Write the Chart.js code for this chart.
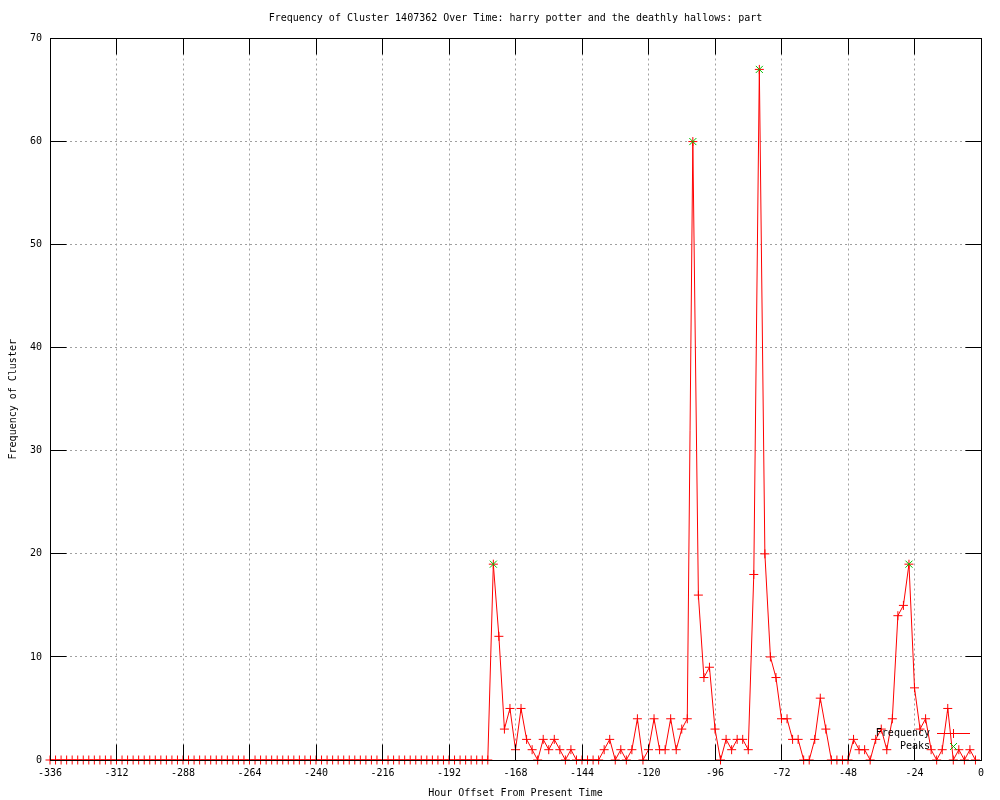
<!DOCTYPE html>
<html>
<head>
<meta charset="utf-8">
<title>Frequency of Cluster 1407362 Over Time</title>
<script src="https://cdn.jsdelivr.net/npm/chart.js@4.4.1/dist/chart.umd.min.js"></script>
<style>
  html, body { margin: 0; padding: 0; background: #fff; }
  #wrap { width: 1000px; height: 800px; }
</style>
</head>
<body>
<div id="wrap"><canvas id="clusterChart" width="1000" height="800"></canvas></div>
<script>
// hour offsets, one sample every 2 hours (one row = one day)
const hours = [
  -336, -334, -332, -330, -328, -326, -324, -322, -320, -318, -316, -314,
  -312, -310, -308, -306, -304, -302, -300, -298, -296, -294, -292, -290,
  -288, -286, -284, -282, -280, -278, -276, -274, -272, -270, -268, -266,
  -264, -262, -260, -258, -256, -254, -252, -250, -248, -246, -244, -242,
  -240, -238, -236, -234, -232, -230, -228, -226, -224, -222, -220, -218,
  -216, -214, -212, -210, -208, -206, -204, -202, -200, -198, -196, -194,
  -192, -190, -188, -186, -184, -182, -180, -178, -176, -174, -172, -170,
  -168, -166, -164, -162, -160, -158, -156, -154, -152, -150, -148, -146,
  -144, -142, -140, -138, -136, -134, -132, -130, -128, -126, -124, -122,
  -120, -118, -116, -114, -112, -110, -108, -106, -104, -102, -100, -98,
  -96, -94, -92, -90, -88, -86, -84, -82, -80, -78, -76, -74,
  -72, -70, -68, -66, -64, -62, -60, -58, -56, -54, -52, -50,
  -48, -46, -44, -42, -40, -38, -36, -34, -32, -30, -28, -26,
  -24, -22, -20, -18, -16, -14, -12, -10, -8, -6, -4, -2
];

const frequency = [
  0, 0, 0, 0, 0, 0, 0, 0, 0, 0, 0, 0,
  0, 0, 0, 0, 0, 0, 0, 0, 0, 0, 0, 0,
  0, 0, 0, 0, 0, 0, 0, 0, 0, 0, 0, 0,
  0, 0, 0, 0, 0, 0, 0, 0, 0, 0, 0, 0,
  0, 0, 0, 0, 0, 0, 0, 0, 0, 0, 0, 0,
  0, 0, 0, 0, 0, 0, 0, 0, 0, 0, 0, 0,
  0, 0, 0, 0, 0, 0, 0, 0, 19, 12, 3, 5,
  1, 5, 2, 1, 0, 2, 1, 2, 1, 0, 1, 0,
  0, 0, 0, 0, 1, 2, 0, 1, 0, 1, 4, 0,
  1, 4, 1, 1, 4, 1, 3, 4, 60, 16, 8, 9,
  3, 0, 2, 1, 2, 2, 1, 18, 67, 20, 10, 8,
  4, 4, 2, 2, 0, 0, 2, 6, 3, 0, 0, 0,
  0, 2, 1, 1, 0, 2, 3, 1, 4, 14, 15, 19,
  7, 3, 4, 1, 0, 1, 5, 0, 1, 0, 1, 0
];

const peakHours = [-176, -104, -80, -26];
const peakValues = [19, 60, 67, 19];

const xTicks = [-336, -312, -288, -264, -240, -216, -192, -168, -144, -120, -96, -72, -48, -24, 0];
const yTicks = [0, 10, 20, 30, 40, 50, 60, 70];

const FONT = '"DejaVu Sans Mono", "Liberation Mono", monospace';
const RED = '#ff0000';
const GREEN = '#00c000';
const TIC = 16;

Chart.defaults.font.family = FONT;
Chart.defaults.font.size = 10;
Chart.defaults.color = '#000';

// snap to the pixel centre so 1px lines stay sharp
const crisp = (v) => Math.round(v - 0.5) + 0.5;

// border box, inward tics and the key, drawn on top like gnuplot does
const gnuplotFrame = {
  id: 'gnuplotFrame',
  afterDatasetsDraw(chart) {
    const { ctx, chartArea: a, scales: { x, y } } = chart;
    const left = crisp(a.left), right = crisp(a.right);
    const top = crisp(a.top), bottom = crisp(a.bottom);
    ctx.save();
    ctx.setLineDash([]);
    ctx.strokeStyle = '#000';
    ctx.lineWidth = 1;
    ctx.beginPath();
    xTicks.forEach(v => {
      const px = crisp(x.getPixelForValue(v));
      ctx.moveTo(px, bottom); ctx.lineTo(px, bottom - TIC);
      ctx.moveTo(px, top); ctx.lineTo(px, top + TIC);
    });
    yTicks.forEach(v => {
      const py = crisp(y.getPixelForValue(v));
      ctx.moveTo(left, py); ctx.lineTo(left + TIC, py);
      ctx.moveTo(right, py); ctx.lineTo(right - TIC, py);
    });
    ctx.stroke();
    ctx.strokeRect(left, top, right - left, bottom - top);

    // key, bottom right inside the plot
    const textRight = a.right - 51;
    const sampleL = a.right - 44;
    const sampleR = a.right - 11;
    const mid = crisp((sampleL + sampleR) / 2);
    const row1 = crisp(a.bottom - 27);
    const row2 = crisp(a.bottom - 14);
    ctx.font = '10px ' + FONT;
    ctx.fillStyle = '#000';
    ctx.textAlign = 'right';
    ctx.textBaseline = 'middle';
    ctx.fillText('Frequency', textRight, row1);
    ctx.fillText('Peaks', textRight, row2);

    // red line with a plus
    ctx.strokeStyle = RED;
    ctx.beginPath();
    ctx.moveTo(sampleL, row1); ctx.lineTo(sampleR, row1);
    ctx.moveTo(mid - 4.5, row1); ctx.lineTo(mid + 4.5, row1);
    ctx.moveTo(mid, row1 - 4.5); ctx.lineTo(mid, row1 + 4.5);
    ctx.stroke();

    // green cross
    ctx.strokeStyle = GREEN;
    ctx.beginPath();
    ctx.moveTo(mid - 3.5, row2 - 3.5); ctx.lineTo(mid + 3.5, row2 + 3.5);
    ctx.moveTo(mid - 3.5, row2 + 3.5); ctx.lineTo(mid + 3.5, row2 - 3.5);
    ctx.stroke();
    ctx.restore();
  }
};

const ctx = document.getElementById('clusterChart');

new Chart(ctx, {
  type: 'line',
  data: {
    datasets: [
      {
        label: 'Frequency',
        data: hours.map((h, i) => ({ x: h, y: frequency[i] })),
        borderColor: RED,
        borderWidth: 1,
        tension: 0,
        pointStyle: 'cross',
        pointRadius: 4.5,
        pointBorderColor: RED,
        pointBorderWidth: 1,
        clip: false,
        order: 1
      },
      {
        label: 'Peaks',
        data: peakHours.map((h, i) => ({ x: h, y: peakValues[i] })),
        showLine: false,
        pointStyle: 'crossRot',
        pointRadius: 5,
        pointBorderColor: GREEN,
        pointBorderWidth: 1,
        clip: false,
        order: 0
      }
    ]
  },
  options: {
    responsive: false,
    animation: false,
    events: [],
    layout: { padding: { left: 0, right: 19, top: 0, bottom: 0 } },
    plugins: {
      legend: { display: false },
      tooltip: { enabled: false },
      title: {
        display: true,
        fullSize: false,
        text: 'Frequency of Cluster 1407362 Over Time: harry potter and the deathly hallows: part',
        color: '#000',
        font: { size: 10, weight: 'normal' },
        padding: { top: 12, bottom: 14.5 }
      }
    },
    scales: {
      x: {
        type: 'linear',
        min: -336,
        max: 0,
        afterFit: (scale) => { scale.height = 40; },
        afterBuildTicks: (scale) => { scale.ticks = xTicks.map(v => ({ value: v })); },
        ticks: { color: '#000', padding: 7, maxRotation: 0, autoSkip: false },
        grid: { color: '#a0a0a0', drawTicks: false },
        border: { display: false, dash: [2, 3] },
        title: {
          display: true,
          text: 'Hour Offset From Present Time',
          color: '#000',
          padding: { top: 0, bottom: 1 }
        }
      },
      y: {
        min: 0,
        max: 70,
        afterFit: (scale) => { scale.width = 50; },
        afterBuildTicks: (scale) => { scale.ticks = yTicks.map(v => ({ value: v })); },
        ticks: { color: '#000', padding: 8 },
        grid: { color: '#a0a0a0', drawTicks: false },
        border: { display: false, dash: [2, 3] },
        title: {
          display: true,
          text: 'Frequency of Cluster',
          color: '#000',
          padding: { top: 7, bottom: 0 }
        }
      }
    }
  },
  plugins: [gnuplotFrame]
});
</script>
</body>
</html>
